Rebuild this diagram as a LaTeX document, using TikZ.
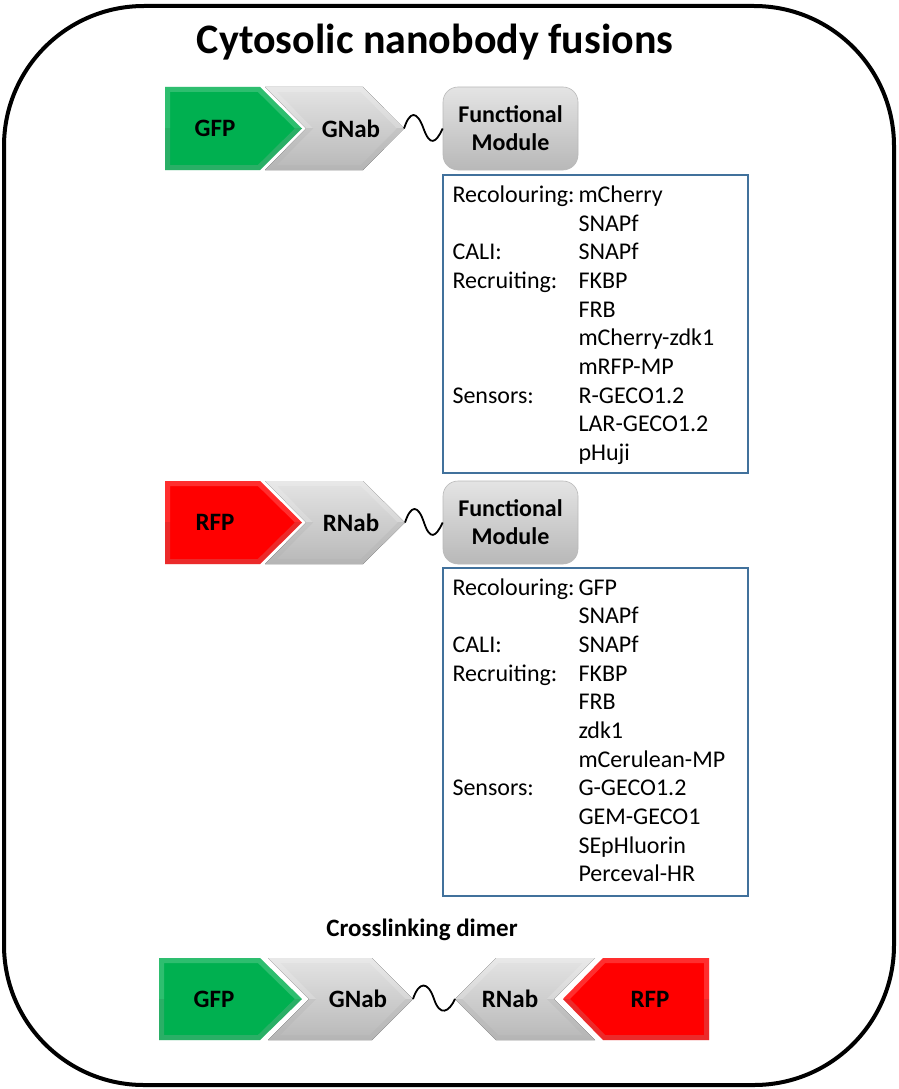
\documentclass[tikz,border=0pt]{standalone}
\usepackage{fontspec}
\setmainfont{Carlito}
\usetikzlibrary{calc}
\definecolor{pgreen}{HTML}{00B050}
\definecolor{pred}{HTML}{FF0000}
\definecolor{boxblue}{HTML}{41719C}
\definecolor{gtop}{HTML}{E4E4E4}
\definecolor{gbot}{HTML}{B8B8B8}
\newcommand\bevshape[3]{%
  \fill[#1] #3;
  \begin{scope}
    \clip #3;
    \draw[line width=10pt, white, opacity=.18, line join=miter] #3;
    \clip (0,#2) rectangle (898,1089);
    \draw[line width=10pt, black, opacity=.08, line join=miter] #3;
  \end{scope}}
\begin{document}
\begin{tikzpicture}[x=1pt,y=-1pt,
  lbl/.style={font=\fontsize{25}{29}\selectfont\bfseries, inner sep=0pt},
  fmbox/.style={minimum width=135pt, minimum height=83pt, rounded corners=15pt,
     top color=gtop, bottom color=gbot, draw=gray!55, line width=0.6pt,
     font=\fontsize{24}{28}\selectfont\bfseries, align=center, inner sep=0pt},
  listbox/.style={draw=boxblue, line width=1.4pt, inner sep=0pt},
  item/.style={anchor=base west, inner sep=0pt, font=\fontsize{24}{28}\selectfont},
  wave/.style={line width=1.8pt, black}]
\useasboundingbox (0,0) rectangle (898,1089);
% outer frame
\node[draw, line width=4pt, rounded corners=140pt, minimum width=890pt, minimum height=1079pt, inner sep=0pt] (frame) at (449,545.5) {};
\node[font=\fontsize{42}{48}\selectfont\bfseries, inner sep=0pt] (title) at (435,42) {Cytosolic nanobody fusions};

% ---------- Row 1 ----------
\bevshape{pgreen}{128.5}{(165,87) -- (260,87) -- (302,128.5) -- (260,170) -- (165,170) -- cycle}
\node[lbl] (gfp1) at (215,128.5) {GFP};
\bevshape{top color=gtop, bottom color=gbot}{128.5}{(265,87) -- (363,87) -- (404,128.5) -- (363,170) -- (265,170) -- (306,128.5) -- cycle}
\node[lbl] (gnab1) at (351,128.5) {GNab};
\coordinate (g1tip) at (404,128.5);
\node[fmbox] (fm1) at (510.5,128.5) {Functional\\Module};
\draw[wave] (g1tip) .. controls ($(g1tip)+(6,-18)$) and ($(g1tip)+(13,-18)$) .. ($(g1tip)+(19.5,0)$)
  .. controls ($(g1tip)+(26,18)$) and ($(fm1.west)+(-7,15)$) .. (fm1.west);
\node[listbox, minimum width=305pt, minimum height=298pt] (lb1) at (595.5,324) {};
\foreach \i/\a/\b in {0/Recolouring:/mCherry, 1//SNAPf, 2/CALI:/SNAPf, 3/Recruiting:/FKBP,
  4//FRB, 5//mCherry-zdk1, 6//mRFP-MP, 7/Sensors:/R-GECO1.2, 8//LAR-GECO1.2, 9//pHuji}{
  \node[item] (l1a\i) at ($(lb1.north west)+(10,28+28.7*\i)$) {\a};
  \node[item] (l1b\i) at ($(lb1.north west)+(136,28+28.7*\i)$) {\b};
}

% ---------- Row 2 ----------
\bevshape{pred}{522.5}{(165,481) -- (260,481) -- (302,522.5) -- (260,564) -- (165,564) -- cycle}
\node[lbl] (rfp2) at (215,522.5) {RFP};
\bevshape{top color=gtop, bottom color=gbot}{522.5}{(265,481) -- (363,481) -- (405,522.5) -- (363,564) -- (265,564) -- (306,522.5) -- cycle}
\node[lbl] (rnab2) at (351,522.5) {RNab};
\coordinate (r2tip) at (405,522.5);
\node[fmbox] (fm2) at (510.5,522.5) {Functional\\Module};
\draw[wave] (r2tip) .. controls ($(r2tip)+(6,-18)$) and ($(r2tip)+(13,-18)$) .. ($(r2tip)+(19,0)$)
  .. controls ($(r2tip)+(25,18)$) and ($(fm2.west)+(-7,15)$) .. (fm2.west);
\node[listbox, minimum width=305pt, minimum height=328pt] (lb2) at (595.5,732) {};
\foreach \i/\a/\b in {0/Recolouring:/GFP, 1//SNAPf, 2/CALI:/SNAPf, 3/Recruiting:/FKBP,
  4//FRB, 5//zdk1, 6//mCerulean-MP, 7/Sensors:/G-GECO1.2, 8//GEM-GECO1, 9//SEpHluorin, 10//Perceval-HR}{
  \node[item] (l2a\i) at ($(lb2.north west)+(10,28+28.65*\i)$) {\a};
  \node[item] (l2b\i) at ($(lb2.north west)+(136,28+28.65*\i)$) {\b};
}

% ---------- Crosslinking dimer ----------
\node[lbl] (cross) at (422,930) {Crosslinking dimer};
\bevshape{pgreen}{999}{(159,958) -- (260,958) -- (302,999) -- (260,1040) -- (159,1040) -- cycle}
\node[lbl] (gfp3) at (214,999) {GFP};
\bevshape{top color=gtop, bottom color=gbot}{999}{(268,958) -- (372,958) -- (413,999) -- (372,1040) -- (268,1040) -- (309,999) -- cycle}
\node[lbl] (gnab3) at (358,999) {GNab};
\coordinate (g3tip) at (413,999);
\bevshape{top color=gtop, bottom color=gbot}{999}{(455,999) -- (496,958) -- (595,958) -- (554,999) -- (595,1040) -- (496,1040) -- cycle}
\node[lbl] (rnab3) at (510,999) {RNab};
\coordinate (r3tip) at (455,999);
\bevshape{pred}{999}{(563,999) -- (603,958) -- (709,958) -- (709,1040) -- (603,1040) -- cycle}
\node[lbl] (rfp3) at (650,999) {RFP};
\draw[wave] (g3tip) .. controls ($(g3tip)+(6,-18)$) and ($(g3tip)+(15,-18)$) .. ($(g3tip)!0.5!(r3tip)$)
  .. controls ($(r3tip)+(-15,18)$) and ($(r3tip)+(-6,13)$) .. (r3tip);
\end{tikzpicture}
\end{document}
